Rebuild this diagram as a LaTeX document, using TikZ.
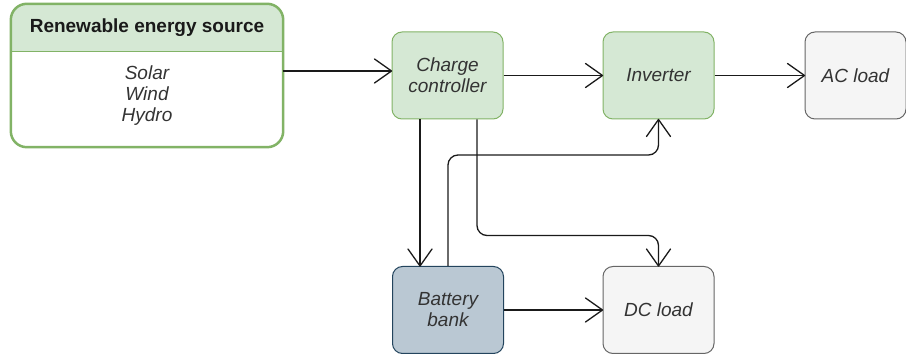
\documentclass[tikz,border=0pt]{standalone}
\usepackage{fontspec}
\setmainfont{Liberation Sans}
\usetikzlibrary{arrows.meta}
\definecolor{grnfill}{HTML}{D5E8D4}
\definecolor{grnline}{HTML}{82B366}
\definecolor{gryfill}{HTML}{F5F5F5}
\definecolor{gryline}{HTML}{666666}
\definecolor{blufill}{HTML}{BAC8D3}
\definecolor{bluline}{HTML}{23445D}
\definecolor{txtgray}{HTML}{333333}
\definecolor{wire}{HTML}{1A1A1A}

% open V tip
\pgfdeclarearrow{
  name = OpenV,
  defaults = {length = 16pt, width = 19pt},
  setup code = {
    \pgfarrowssettipend{0pt}
    \pgfarrowssetlineend{-0.5\pgflinewidth}
    \pgfarrowssetvisualbackend{-\pgfarrowlength}
    \pgfarrowssetbackend{-\pgfarrowlength}
    \pgfarrowssavethe\pgfarrowlength
    \pgfarrowssavethe\pgfarrowwidth
  },
  drawing code = {
    \pgfsetroundjoin
    \pgfsetroundcap
    \pgfsetdash{}{0pt}
    \pgfpathmoveto{\pgfqpoint{-\pgfarrowlength}{.5\pgfarrowwidth}}
    \pgfpathlineto{\pgfpointorigin}
    \pgfpathlineto{\pgfqpoint{-\pgfarrowlength}{-.5\pgfarrowwidth}}
    \pgfusepathqstroke
  },
  parameters = {\the\pgfarrowlength,\the\pgfarrowwidth}
}

\begin{document}
\begin{tikzpicture}[x=1pt,y=1pt,
  box/.style={draw,rounded corners=10pt,minimum width=111pt,minimum height=87pt,align=center,text=txtgray,line width=1pt,font=\fontsize{19}{21}\selectfont\itshape},
  greenbox/.style={box,fill=grnfill,draw=grnline},
  graybox/.style={box,fill=gryfill,draw=gryline},
  bluebox/.style={box,fill=blufill,draw=bluline},
  conn/.style={draw=wire,line width=1.3pt,-{OpenV[length=17pt,width=24pt]}}]
\useasboundingbox (0,0) rectangle (906,-358);

% renewable energy source (header + list)
\node[minimum width=272pt,minimum height=143pt,inner sep=0pt] (src) at (147,-75.5) {};
\begin{scope}
\clip (0,-4) rectangle (300,-52);
\fill[grnfill,rounded corners=16pt] (src.north west) rectangle (src.south east);
\end{scope}
\draw[grnline,line width=1pt] (src.west |- 0,-52) -- (src.east |- 0,-52);
\draw[grnline,line width=2.5pt,rounded corners=16pt] (src.north west) rectangle (src.south east);
\node[font=\fontsize{19}{21}\selectfont\bfseries,text=wire] (head) at (147,-28) {Renewable energy source};
\node[align=center,text=txtgray,font=\fontsize{19}{21}\selectfont\itshape] (list) at (147,-96) {Solar\\Wind\\Hydro};

% blocks
\node[greenbox] (cc) at (447.5,-75.5) {Charge\\controller};
\node[greenbox] (inv) at (658.5,-75.5) {Inverter};
\node[graybox,minimum width=101pt] (ac) at (855.5,-75.5) {AC load};
\node[bluebox] (bat) at (448,-310) {Battery\\bank};
\node[graybox] (dc) at (658.5,-310) {DC load};

% connectors
\draw[conn] ([yshift=4.5pt]src.east) -- ([yshift=4.5pt]cc.west);
\draw[conn] (cc) -- (inv);
\draw[conn] (inv) -- (ac);
\draw[conn] ([xshift=-27.5pt]cc.south) -- ([xshift=-28pt]bat.north);
\draw[conn,rounded corners=10pt] ([xshift=29.5pt]cc.south) -- ++(0,-116) -| (dc.north);
\draw[conn,rounded corners=10pt] (bat.north) -- ++(0,111) -| (inv.south);
\draw[conn] (bat) -- (dc);
\end{tikzpicture}
\end{document}
